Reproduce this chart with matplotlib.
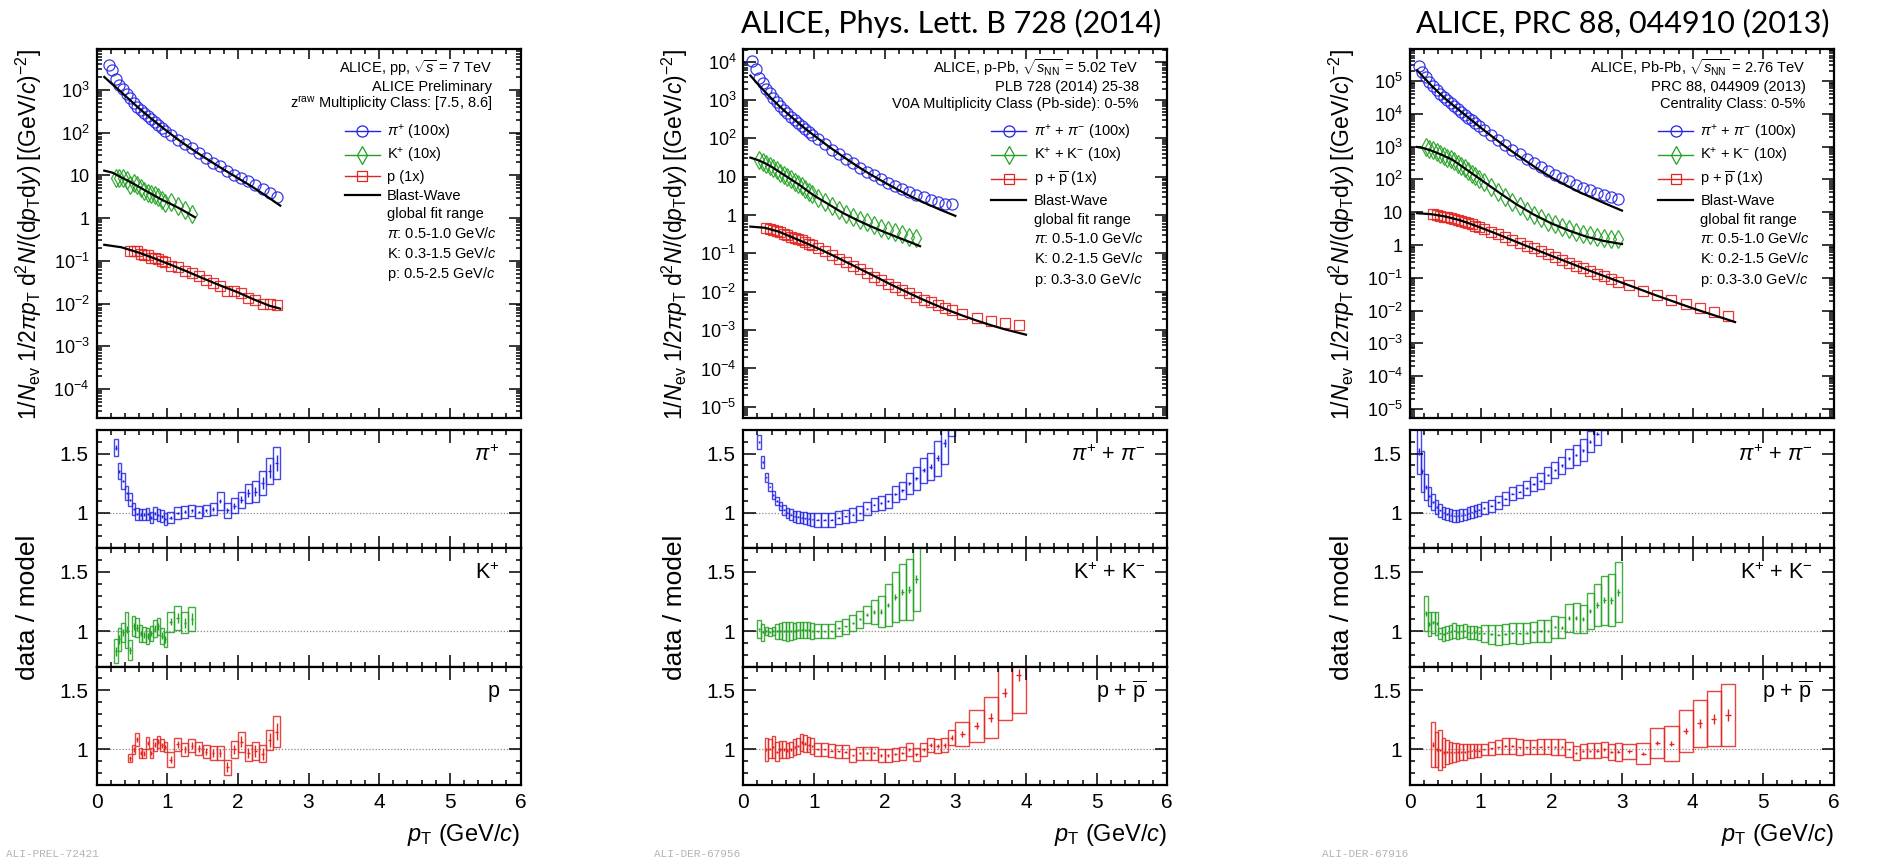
import numpy as np
import matplotlib
matplotlib.use("Agg")
import matplotlib.pyplot as plt
from matplotlib.lines import Line2D
from matplotlib.ticker import FuncFormatter, LogLocator, MultipleLocator, NullFormatter, FixedLocator

plt.rcParams['font.family'] = 'Liberation Sans'
plt.rcParams['mathtext.fontset'] = 'custom'
plt.rcParams['mathtext.rm'] = 'Liberation Sans'
plt.rcParams['mathtext.it'] = 'Liberation Sans:italic'
plt.rcParams['mathtext.bf'] = 'Liberation Sans:bold'
plt.rcParams['mathtext.sf'] = 'Liberation Sans'

W, H = 1889, 860
BLUE, GREEN, RED = '#2424e6', '#22a122', '#e32420'

# ---------------- pp 7 TeV ----------------
pp_pi_pt = [0.175, 0.225, 0.275, 0.325, 0.375, 0.425, 0.475, 0.525, 0.575, 0.625, 0.675, 0.725, 0.775, 0.825, 0.875, 0.925, 0.975,
            1.05, 1.15, 1.25, 1.35, 1.45, 1.55, 1.65, 1.75, 1.85, 1.95, 2.05, 2.15, 2.25, 2.35, 2.45, 2.55]
pp_pi_w = [0.05] * 17 + [0.1] * 16
pp_pi_y = [3800, 2950, 1760, 1290, 1020, 795, 635, 497, 403, 337, 284, 243, 202, 180, 152, 130, 109,
           87, 66.5, 53.5, 43.4, 33.3, 25.7, 19.7, 16.8, 12.5, 10.4, 8.6, 7.2, 5.8, 4.8, 3.9, 3.07]
pp_pi_r = [2.3, 1.85, 1.55, 1.35, 1.27, 1.17, 1.11, 1.03, 0.99, 0.985, 0.985, 0.99, 0.96, 0.995, 0.98, 0.97, 0.95,
           0.96, 1.0, 1.01, 1.02, 1.005, 1.02, 1.03, 1.10, 1.02, 1.06, 1.11, 1.165, 1.18, 1.25, 1.35, 1.42]
pp_pi_sys = [0.15, 0.1, 0.07, 0.068, 0.065, 0.06, 0.055, 0.05, 0.05, 0.05, 0.05, 0.05, 0.05, 0.05, 0.05, 0.05, 0.05,
             0.05, 0.05, 0.05, 0.05, 0.05, 0.05, 0.05, 0.075, 0.06, 0.065, 0.07, 0.08, 0.085, 0.1, 0.11, 0.135]
pp_pi_stat = [0.02, 0.02, 0.02, 0.015, 0.01, 0.01, 0.01, 0.01, 0.01, 0.01, 0.01, 0.01, 0.01, 0.01, 0.01, 0.01, 0.01,
              0.01, 0.01, 0.01, 0.01, 0.01, 0.015, 0.015, 0.02, 0.02, 0.025, 0.03, 0.035, 0.04, 0.05, 0.06, 0.07]
pp_pi_bw_pt = [0.11, 0.2, 0.3, 0.4, 0.5, 0.6, 0.8, 1.0, 1.2, 1.4, 1.6, 1.8, 2.0, 2.2, 2.4, 2.6]
pp_pi_bw = [2000, 1460, 1050, 740, 525, 370, 195, 107, 60.3, 35.9, 21.9, 13.6, 8.6, 5.43, 3.31, 1.95]

pp_k_pt = [0.275, 0.325, 0.375, 0.425, 0.475, 0.525, 0.575, 0.625, 0.675, 0.725, 0.775, 0.825, 0.875, 0.925, 0.975,
           1.05, 1.15, 1.25, 1.35]
pp_k_w = [0.05] * 15 + [0.1] * 4
pp_k_y = [8.67, 8.8, 8.5, 7.84, 5.9, 6.5, 5.8, 4.94, 4.38, 3.89, 3.59, 3.37, 3.10, 2.58, 2.28, 2.31, 1.95, 1.53, 1.26]
pp_k_r = [0.83, 0.93, 0.99, 1.01, 0.84, 1.04, 1.03, 0.98, 0.97, 0.96, 0.98, 1.02, 1.04, 0.96, 0.93, 1.08, 1.11, 1.07, 1.10]
pp_k_sys = [0.1, 0.1, 0.08, 0.155, 0.085, 0.085, 0.077, 0.07, 0.065, 0.065, 0.065, 0.07, 0.075, 0.07, 0.06,
            0.085, 0.1, 0.09, 0.1]
pp_k_stat = [0.04, 0.04, 0.03, 0.03, 0.03, 0.03, 0.03, 0.025, 0.025, 0.025, 0.025, 0.03, 0.03, 0.03, 0.03,
             0.03, 0.04, 0.04, 0.05]
pp_k_bw_pt = [0.11, 0.225, 0.34, 0.46, 0.58, 0.7, 0.81, 0.93, 1.05, 1.16, 1.28, 1.39]
pp_k_bw = [12.85, 11.53, 9.14, 7.24, 5.62, 4.31, 3.41, 2.65, 2.14, 1.73, 1.34, 1.05]

pp_p_pt = [0.475, 0.525, 0.575, 0.625, 0.675, 0.725, 0.775, 0.825, 0.875, 0.925, 0.975,
           1.05, 1.15, 1.25, 1.35, 1.45, 1.55, 1.65, 1.75, 1.85, 1.95, 2.05, 2.15, 2.25, 2.35, 2.45, 2.55]
pp_p_w = [0.05] * 11 + [0.1] * 16
pp_p_y = [0.1656, 0.169, 0.173, 0.1445, 0.134, 0.137, 0.1175, 0.1172, 0.1114, 0.1007, 0.092,
          0.0738, 0.0721, 0.059, 0.0518, 0.043, 0.0356, 0.0301, 0.0258, 0.01945, 0.01977, 0.0179, 0.01377,
          0.0119, 0.00995, 0.00955, 0.00917]
pp_p_r = [0.925, 1.0, 1.085, 0.97, 0.965, 1.055, 0.97, 1.04, 1.065, 1.035, 1.02,
          0.915, 1.045, 1.0, 1.03, 1.01, 0.98, 0.97, 0.97, 0.85, 1.0, 1.065, 0.97, 0.99, 0.965, 1.08, 1.15]
pp_p_sys = [0.035, 0.04, 0.055, 0.04, 0.04, 0.05, 0.045, 0.05, 0.05, 0.05, 0.045,
            0.065, 0.055, 0.055, 0.055, 0.055, 0.055, 0.06, 0.06, 0.065, 0.07, 0.085, 0.07, 0.075, 0.075, 0.085, 0.13]
pp_p_stat = [0.02, 0.02, 0.02, 0.02, 0.02, 0.02, 0.02, 0.02, 0.02, 0.02, 0.02,
             0.03, 0.03, 0.03, 0.03, 0.03, 0.03, 0.03, 0.035, 0.04, 0.04, 0.045, 0.045, 0.05, 0.05, 0.06, 0.07]
pp_p_bw_pt = [0.11, 0.35, 0.6, 0.8, 1.05, 1.3, 1.5, 1.75, 2.0, 2.2, 2.45, 2.6]
pp_p_bw = [0.2366, 0.2075, 0.155, 0.117, 0.0807, 0.0546, 0.0393, 0.0265, 0.0183, 0.0130, 0.00885, 0.0076]

# ---------------- p-Pb 5.02 TeV ----------------
ppb_pi_pt = [0.125, 0.175, 0.225, 0.275, 0.325, 0.375, 0.425, 0.475, 0.525, 0.575, 0.625, 0.675, 0.725, 0.775,
             0.825, 0.875, 0.925, 0.975,
             1.05, 1.15, 1.25, 1.35, 1.45, 1.55, 1.65, 1.75, 1.85, 1.95, 2.05, 2.15, 2.25, 2.35, 2.45, 2.55, 2.65,
             2.75, 2.85, 2.95]
ppb_pi_w = [0.05] * 18 + [0.1] * 20
ppb_pi_y = [10470, 6610, 3837, 2723, 1968, 1493, 1137, 883, 697, 554, 447, 366, 300, 248, 207, 173, 146, 123,
            96.2, 69.7, 51.1, 38.6, 29.2, 22.2, 17.1, 13.6, 10.9, 8.63, 6.93, 5.81, 4.77, 4.03, 3.38, 2.93, 2.47,
            2.16, 1.97, 1.93]
ppb_pi_r = [2.7, 2.2, 1.60, 1.43, 1.30, 1.22, 1.15, 1.10, 1.06, 1.025, 1.0, 0.983, 0.97, 0.966, 0.96, 0.955, 0.95,
            0.946,
            0.94, 0.94, 0.94, 0.96, 0.97, 0.983, 0.997, 1.034, 1.07, 1.08, 1.10, 1.16, 1.19, 1.25, 1.29, 1.36, 1.39,
            1.46, 1.59, 1.85]
ppb_pi_sys = [0.2, 0.15, 0.06, 0.05, 0.04, 0.035, 0.035, 0.035, 0.035, 0.04, 0.04, 0.045, 0.045, 0.05, 0.05, 0.05,
              0.05, 0.055,
              0.057, 0.057, 0.057, 0.057, 0.055, 0.057, 0.057, 0.055, 0.055, 0.06, 0.06, 0.065, 0.07, 0.09, 0.1,
              0.106, 0.114, 0.15, 0.18, 0.2]
ppb_pi_stat = [0.01, 0.01, 0.01, 0.008, 0.006, 0.005, 0.005, 0.005, 0.005, 0.005, 0.005, 0.005, 0.005, 0.005,
               0.005, 0.005, 0.005, 0.005,
               0.005, 0.005, 0.005, 0.005, 0.005, 0.005, 0.005, 0.006, 0.007, 0.008, 0.009, 0.01, 0.012, 0.014,
               0.016, 0.018, 0.02, 0.025, 0.03, 0.035]
ppb_pi_bw_pt = [0.1, 0.2, 0.3, 0.4, 0.5, 0.6, 0.7, 0.8, 0.9, 1.0, 1.2, 1.4, 1.6, 1.8, 2.0, 2.2, 2.4, 2.6, 2.8, 3.0]
ppb_pi_bw = [4365, 2692, 1698, 1096, 724, 490, 339, 234, 166, 120, 63.1, 34.7, 19.5, 11.5, 7.08, 4.47, 2.88, 1.95,
             1.35, 0.955]

ppb_k_pt = [0.225, 0.275, 0.325, 0.375, 0.425, 0.475, 0.525, 0.575, 0.625, 0.675, 0.725, 0.775, 0.825, 0.875,
            0.925, 0.975,
            1.05, 1.15, 1.25, 1.35, 1.45, 1.55, 1.65, 1.75, 1.85, 1.95, 2.05, 2.15, 2.25, 2.35, 2.45]
ppb_k_w = [0.05] * 16 + [0.1] * 15
ppb_k_y = [26.7, 23.8, 21.6, 19.2, 17.0, 14.8, 12.9, 11.2, 9.77, 8.51, 7.41, 6.52, 5.62, 4.82, 4.12, 3.50,
           2.85, 2.21, 1.71, 1.36, 1.09, 0.902, 0.755, 0.644, 0.543, 0.457, 0.406, 0.366, 0.315, 0.27, 0.251]
ppb_k_r = [1.017, 0.99, 1.0, 0.995, 1.0, 1.0, 1.0, 1.0, 1.0, 1.0, 1.0, 1.01, 1.01, 1.01, 1.01, 1.0,
           1.0, 1.0, 1.0, 1.025, 1.04, 1.07, 1.10, 1.14, 1.16, 1.165, 1.22, 1.29, 1.33, 1.35, 1.44]
ppb_k_sys = [0.077, 0.07, 0.035, 0.035, 0.035, 0.063, 0.066, 0.075, 0.08, 0.075, 0.07, 0.07, 0.07, 0.07, 0.07, 0.065,
             0.06, 0.06, 0.06, 0.063, 0.063, 0.07, 0.07, 0.075, 0.1, 0.13, 0.18, 0.21, 0.24, 0.26, 0.27]
ppb_k_stat = [0.01, 0.01, 0.01, 0.01, 0.01, 0.01, 0.01, 0.01, 0.01, 0.01, 0.01, 0.01, 0.01, 0.01, 0.01, 0.01,
              0.005, 0.005, 0.005, 0.006, 0.007, 0.008, 0.01, 0.012, 0.015, 0.018, 0.02, 0.025, 0.025, 0.03, 0.035]
ppb_k_bw_pt = [0.1, 0.2, 0.3, 0.4, 0.5, 0.6, 0.8, 1.0, 1.2, 1.4, 1.6, 1.8, 2.0, 2.2, 2.4, 2.5]
ppb_k_bw = [31.6, 27.5, 22.9, 18.2, 13.8, 10.5, 6.03, 3.24, 1.95, 1.16, 0.759, 0.513, 0.359, 0.257, 0.184, 0.155]

ppb_p_pt = [0.325, 0.375, 0.425, 0.475, 0.525, 0.575, 0.625, 0.675, 0.725, 0.775, 0.825, 0.875, 0.925, 0.975,
            1.05, 1.15, 1.25, 1.35, 1.45, 1.55, 1.65, 1.75, 1.85, 1.95, 2.05, 2.15, 2.25, 2.35, 2.45, 2.55, 2.65,
            2.75, 2.85, 2.95,
            3.1, 3.3, 3.5, 3.7, 3.9]
ppb_p_w = [0.05] * 14 + [0.1] * 20 + [0.2] * 5
ppb_p_y = [0.454, 0.431, 0.413, 0.374, 0.356, 0.325, 0.294, 0.272, 0.254, 0.234, 0.22, 0.1995, 0.180, 0.1626,
           0.1368, 0.1125, 0.0912, 0.0736, 0.0592, 0.0465, 0.0383, 0.031, 0.025, 0.0198, 0.016, 0.0131, 0.01086,
           0.00914, 0.00718, 0.00617, 0.00533, 0.00442, 0.00373, 0.00336,
           0.00271, 0.00213, 0.00171, 0.00155, 0.00138]
ppb_p_r = [1.0, 1.005, 1.02, 0.98, 1.0, 1.0, 0.99, 1.0, 1.02, 1.03, 1.06, 1.05, 1.04, 1.03,
           1.0, 1.0, 0.99, 0.985, 0.98, 0.95, 0.97, 0.97, 0.97, 0.95, 0.95, 0.96, 0.97, 1.0, 0.96, 1.0, 1.04, 1.03,
           1.035, 1.10,
           1.13, 1.20, 1.27, 1.48, 1.63]
ppb_p_sys = [0.095, 0.08, 0.09, 0.08, 0.07, 0.07, 0.065, 0.065, 0.065, 0.07, 0.07, 0.07, 0.065, 0.065,
             0.055, 0.055, 0.055, 0.055, 0.055, 0.055, 0.055, 0.055, 0.055, 0.055, 0.055, 0.055, 0.055, 0.055,
             0.055, 0.055, 0.06, 0.06, 0.06, 0.065,
             0.1, 0.135, 0.17, 0.23, 0.32]
ppb_p_stat = [0.01, 0.01, 0.01, 0.01, 0.01, 0.01, 0.01, 0.01, 0.01, 0.01, 0.01, 0.01, 0.01, 0.01,
              0.006, 0.006, 0.006, 0.006, 0.007, 0.007, 0.008, 0.008, 0.009, 0.01, 0.01, 0.011, 0.012, 0.013,
              0.014, 0.015, 0.016, 0.018, 0.02, 0.022,
              0.025, 0.03, 0.035, 0.04, 0.05]
ppb_p_bw_pt = [0.1, 0.3, 0.5, 0.7, 0.9, 1.1, 1.3, 1.5, 1.7, 1.9, 2.1, 2.3, 2.5, 2.7, 2.9, 3.1, 3.3, 3.5, 3.7, 4.0]
ppb_p_bw = [0.501, 0.468, 0.372, 0.26, 0.182, 0.1245, 0.0832, 0.0543, 0.0355, 0.0232, 0.0151, 0.0101, 0.00676,
            0.00468, 0.00331, 0.0024, 0.00178, 0.00135, 0.00105, 0.00076]

# ---------------- Pb-Pb 2.76 TeV ----------------
pbpb_pi_pt = [0.125, 0.175, 0.225, 0.275, 0.325, 0.375, 0.425, 0.475, 0.525, 0.575, 0.625, 0.675, 0.725, 0.775,
              0.825, 0.875, 0.925, 0.975,
              1.05, 1.15, 1.25, 1.35, 1.45, 1.55, 1.65, 1.75, 1.85, 1.95, 2.05, 2.15, 2.25, 2.35, 2.45, 2.55, 2.65,
              2.75, 2.85, 2.95]
pbpb_pi_w = [0.05] * 18 + [0.1] * 20
pbpb_pi_y = [285000, 194000, 134500, 96500, 71600, 54200, 41600, 32400, 25800, 20700, 16800, 13700, 11300, 9270,
             7660, 6320, 5210, 4310,
             3260, 2260, 1590, 1122, 811, 585, 428, 315, 233, 177, 137, 108, 86.9, 68.9, 55.9, 46.9, 39.4, 34.1,
             29.9, 26.1]
pbpb_pi_r = [1.52, 1.35, 1.22, 1.14, 1.09, 1.05, 1.02, 1.0, 0.99, 0.98, 0.975, 0.975, 0.98, 0.985, 0.995, 1.005,
             1.015, 1.025,
             1.04, 1.06, 1.09, 1.12, 1.16, 1.18, 1.21, 1.245, 1.27, 1.32, 1.36, 1.40, 1.46, 1.49, 1.53, 1.60, 1.67,
             1.80, 1.95, 2.1]
pbpb_pi_sys = [0.19, 0.17, 0.11, 0.08, 0.07, 0.06, 0.055, 0.05, 0.05, 0.05, 0.05, 0.05, 0.05, 0.05, 0.05, 0.05,
               0.05, 0.05,
               0.05, 0.05, 0.055, 0.055, 0.055, 0.057, 0.06, 0.06, 0.065, 0.065, 0.07, 0.075, 0.08, 0.085, 0.09,
               0.09, 0.1, 0.1, 0.11, 0.12]
pbpb_pi_stat = [0.03, 0.02, 0.015, 0.01, 0.008, 0.006, 0.005, 0.005, 0.005, 0.005, 0.005, 0.005, 0.005, 0.005,
                0.005, 0.005, 0.005, 0.005,
                0.005, 0.005, 0.005, 0.005, 0.005, 0.005, 0.006, 0.006, 0.007, 0.008, 0.008, 0.009, 0.01, 0.011,
                0.012, 0.014, 0.016, 0.018, 0.02, 0.022]
pbpb_pi_bw_pt = [0.1, 0.2, 0.3, 0.4, 0.5, 0.6, 0.8, 1.0, 1.2, 1.4, 1.6, 1.8, 2.0, 2.2, 2.4, 2.6, 2.8, 3.0]
pbpb_pi_bw = [213800, 125900, 74130, 45710, 28840, 19050, 8511, 3802, 1758, 831.8, 416.9, 213.8, 114.8, 67.6,
              40.7, 26.3, 17.0, 11.2]

pbpb_k_pt = [0.225, 0.275, 0.325, 0.375, 0.425, 0.475, 0.525, 0.575, 0.625, 0.675, 0.725, 0.775, 0.825, 0.875,
             0.925, 0.975,
             1.05, 1.15, 1.25, 1.35, 1.45, 1.55, 1.65, 1.75, 1.85, 1.95, 2.05, 2.15, 2.25, 2.35, 2.45, 2.55, 2.65,
             2.75, 2.85, 2.95]
pbpb_k_w = [0.05] * 16 + [0.1] * 20
pbpb_k_y = [985, 837, 775, 695, 579, 518, 466, 420, 367, 304, 258, 219, 181, 151, 128, 106,
            81.5, 57.1, 40.1, 28.6, 20.7, 15.0, 11.2, 8.43, 6.64, 5.18, 4.28, 3.47, 3.05, 2.56, 2.13, 1.96, 1.81,
            1.66, 1.53, 1.49]
pbpb_k_r = [1.15, 1.06, 1.075, 1.065, 0.98, 0.975, 0.985, 0.995, 1.005, 0.99, 1.0, 1.005, 0.99, 0.985, 0.99, 0.98,
            0.98, 0.975, 0.97, 0.975, 0.985, 0.98, 0.985, 0.99, 1.0, 1.0, 1.035, 1.03, 1.11, 1.11, 1.10, 1.17, 1.22,
            1.26, 1.26, 1.33]
pbpb_k_sys = [0.15, 0.1, 0.09, 0.1, 0.05, 0.06, 0.06, 0.06, 0.06, 0.06, 0.055, 0.055, 0.055, 0.055, 0.055, 0.055,
              0.07, 0.08, 0.085, 0.085, 0.085, 0.085, 0.085, 0.085, 0.09, 0.09, 0.09, 0.09, 0.12, 0.13, 0.12, 0.15,
              0.18, 0.21, 0.22, 0.25]
pbpb_k_stat = [0.02, 0.015, 0.012, 0.01, 0.008, 0.006, 0.005, 0.005, 0.005, 0.005, 0.005, 0.005, 0.005, 0.005,
               0.005, 0.005,
               0.005, 0.005, 0.005, 0.005, 0.006, 0.006, 0.007, 0.008, 0.009, 0.01, 0.011, 0.012, 0.014, 0.016,
               0.018, 0.02, 0.022, 0.025, 0.028, 0.03]
pbpb_k_bw_pt = [0.1, 0.2, 0.3, 0.45, 0.6, 0.8, 1.05, 1.3, 1.5, 1.75, 2.0, 2.25, 2.5, 2.75, 3.0]
pbpb_k_bw = [977, 891, 759, 562, 398, 200, 83.2, 34.7, 17.8, 8.51, 4.57, 2.75, 1.78, 1.32, 1.07]

pbpb_p_pt = [0.325, 0.375, 0.425, 0.475, 0.525, 0.575, 0.625, 0.675, 0.725, 0.775, 0.825, 0.875, 0.925, 0.975,
             1.05, 1.15, 1.25, 1.35, 1.45, 1.55, 1.65, 1.75, 1.85, 1.95, 2.05, 2.15, 2.25, 2.35, 2.45, 2.55, 2.65,
             2.75, 2.85, 2.95,
             3.1, 3.3, 3.5, 3.7, 3.9, 4.1, 4.3, 4.5]
pbpb_p_w = [0.05] * 14 + [0.1] * 20 + [0.2] * 8
pbpb_p_y = [8.87, 8.2, 7.83, 7.38, 7.03, 6.58, 6.17, 5.82, 5.41, 4.97, 4.58, 4.23, 3.85, 3.52,
            3.08, 2.56, 2.13, 1.76, 1.44, 1.16, 0.955, 0.783, 0.646, 0.53, 0.434, 0.357, 0.288, 0.231, 0.194, 0.161,
            0.134, 0.112, 0.0914, 0.076,
            0.0583, 0.0395, 0.0297, 0.0208, 0.0162, 0.0122, 0.00912, 0.00678]
pbpb_p_r = [1.04, 1.0, 0.995, 0.975, 0.98, 0.975, 0.975, 0.98, 0.98, 0.98, 0.985, 0.99, 0.99, 0.99,
            1.0, 1.01, 1.02, 1.03, 1.03, 1.02, 1.02, 1.02, 1.025, 1.025, 1.02, 1.02, 1.0, 0.97, 0.99, 0.99, 0.99,
            1.0, 0.98, 0.98,
            0.985, 0.965, 1.055, 1.05, 1.155, 1.22, 1.26, 1.29]
pbpb_p_sys = [0.19, 0.15, 0.17, 0.12, 0.1, 0.09, 0.08, 0.075, 0.07, 0.065, 0.06, 0.06, 0.055, 0.055,
              0.05, 0.055, 0.06, 0.065, 0.065, 0.065, 0.06, 0.06, 0.06, 0.065, 0.065, 0.065, 0.06, 0.06, 0.06,
              0.065, 0.065, 0.065, 0.07, 0.075,
              0.065, 0.09, 0.13, 0.15, 0.18, 0.2, 0.23, 0.26]
pbpb_p_stat = [0.02, 0.015, 0.012, 0.01, 0.008, 0.007, 0.006, 0.006, 0.006, 0.006, 0.006, 0.006, 0.006, 0.006,
               0.005, 0.005, 0.005, 0.005, 0.005, 0.005, 0.005, 0.005, 0.006, 0.006, 0.006, 0.007, 0.007, 0.008,
               0.008, 0.009, 0.01, 0.01, 0.011, 0.012,
               0.012, 0.014, 0.018, 0.022, 0.028, 0.035, 0.042, 0.05]
pbpb_p_bw_pt = [0.1, 0.3, 0.5, 0.7, 0.85, 1.0, 1.25, 1.5, 2.0, 2.5, 3.0, 3.5, 4.0, 4.6]
pbpb_p_bw = [9.33, 8.71, 7.41, 5.75, 4.47, 3.39, 2.09, 1.26, 0.468, 0.178, 0.0708, 0.0282, 0.01175, 0.00447]

# ---------------- text ----------------
pp_legend = [r"$\pi^{+}$ (100x)", r"K$^{+}$ (10x)", "p (1x)", "Blast-Wave", "global fit range",
             r"$\pi$: 0.5-1.0 GeV/$c$", r"K: 0.3-1.5 GeV/$c$", r"p: 0.5-2.5 GeV/$c$"]
ppb_legend = [r"$\pi^{+}$ + $\pi^{-}$ (100x)", r"K$^{+}$ + K$^{-}$ (10x)", r"p + $\overline{\rm p}$ (1x)",
              "Blast-Wave", "global fit range",
              r"$\pi$: 0.5-1.0 GeV/$c$", r"K: 0.2-1.5 GeV/$c$", r"p: 0.3-3.0 GeV/$c$"]
pbpb_legend = ppb_legend
pp_header = [r"ALICE, pp, $\sqrt{s}$ = 7 TeV", "ALICE Preliminary", r"z$^{\rm raw}$ Multiplicity Class: [7.5, 8.6]"]
ppb_header = [r"ALICE, p-Pb, $\sqrt{s_{\rm NN}}$ = 5.02 TeV", "PLB 728 (2014) 25-38",
              "V0A Multiplicity Class (Pb-side): 0-5%"]
pbpb_header = [r"ALICE, Pb-Pb, $\sqrt{s_{\rm NN}}$ = 2.76 TeV", "PRC 88, 044909 (2013)", "Centrality Class: 0-5%"]
pp_rlabels = [r"$\pi^{+}$", r"K$^{+}$", "p"]
ab_rlabels = [r"$\pi^{+}$ + $\pi^{-}$", r"K$^{+}$ + K$^{-}$", r"p + $\overline{\rm p}$"]

ylabel_top = (r"$1/N_{\rm ev}\; 1/2\pi p_{\rm T}\; {\rm d}^{2}N/({\rm d}p_{\rm T}{\rm d}y)\;"
              r" [({\rm GeV}/c)^{-2}]$")
xlabel = r"$p_{\rm T}$ (GeV/$c$)"


def log_fmt(v, pos):
    e = int(round(np.log10(v)))
    if e == 0:
        return "1"
    if e == 1:
        return "10"
    return r"$10^{%d}$" % e


def style_ax(ax):
    for sp in ax.spines.values():
        sp.set_linewidth(1.6)
    ax.tick_params(which='both', direction='in', top=True, right=True, width=1.1)
    ax.tick_params(which='major', length=7)
    ax.tick_params(which='minor', length=3.5)


fig = plt.figure(figsize=(W / 100, H / 100), dpi=100)


def draw_column(x0, ylim, series, legend_labels, header, rlabels, title, title_x, wm, wm_x):
    left = x0 / W
    width = 424 / W

    # spectra panel
    ax = fig.add_axes([left, 1 - 418 / H, width, 369 / H])
    handles = []
    for pt, w, y, r, sys_, stat, bw_pt, bw, col, mk, ms in series:
        ax.plot(pt, y, ls='none', marker=mk, ms=ms, mfc='none', mec=col, mew=0.9, alpha=0.9, zorder=2)
        ax.plot(bw_pt, bw, color='k', lw=1.6, zorder=3)
        handles.append(Line2D([], [], color=col, marker=mk, ms=ms, mfc='none', mec=col, mew=0.9, lw=1.0))
    handles.append(Line2D([], [], color='k', lw=1.6))
    for _ in range(4):
        handles.append(Line2D([], [], color='none'))
    ax.set_yscale('log')
    ax.set_ylim(*ylim)
    ax.set_xlim(0, 6)
    ax.yaxis.set_major_locator(LogLocator(base=10, numticks=30))
    ax.yaxis.set_minor_locator(LogLocator(base=10, subs=np.arange(2, 10), numticks=30))
    ax.yaxis.set_major_formatter(FuncFormatter(log_fmt))
    ax.yaxis.set_minor_formatter(NullFormatter())
    ax.xaxis.set_major_locator(MultipleLocator(1))
    ax.xaxis.set_minor_locator(MultipleLocator(0.2))
    style_ax(ax)
    ax.tick_params(axis='y', which='major', length=9)
    ax.tick_params(labelbottom=False, labelsize=13, pad=5)
    ax.legend(handles, legend_labels, loc='upper left', bbox_to_anchor=(0.585, 0.80), frameon=False,
              fontsize=10.5, handlelength=2.4, handletextpad=0.5, labelspacing=0.32, borderpad=0,
              borderaxespad=0, numpoints=1)
    for txt, yy in zip(header, [0.9485, 0.897, 0.851]):
        ax.text(0.933, yy, txt, transform=ax.transAxes, ha='right', va='center', fontsize=10.5)
    fig.text((x0 - 68) / W, 1 - 234 / H, ylabel_top, rotation=90, ha='center', va='center', fontsize=16.5)

    # ratio panels
    for i, (pt, w, y, r, sys_, stat, bw_pt, bw, col, mk, ms) in enumerate(series):
        axr = fig.add_axes([left, 1 - (548.3 + 118.33 * i) / H, width, 118.33 / H])
        pt = np.array(pt)
        w = np.array(w)
        r = np.array(r)
        sys_ = np.array(sys_)
        axr.axhline(1.0, color='#8a8a8a', ls=(0, (1, 1.5)), lw=0.9, zorder=0)
        axr.bar(pt, 2 * sys_, width=w, bottom=r - sys_, fill=False, edgecolor=col, linewidth=1.0, alpha=0.85)
        axr.errorbar(pt, r, yerr=stat, xerr=0.18 * w, fmt='none', ecolor=col, elinewidth=1.0)
        axr.set_xlim(0, 6)
        axr.set_ylim(0.7, 1.7)
        axr.yaxis.set_major_locator(FixedLocator([1.0, 1.5]))
        axr.yaxis.set_major_formatter(FuncFormatter(lambda v, p: "1" if abs(v - 1) < 1e-6 else "1.5"))
        axr.yaxis.set_minor_locator(MultipleLocator(0.1))
        axr.xaxis.set_major_locator(MultipleLocator(1))
        axr.xaxis.set_minor_locator(MultipleLocator(0.2))
        style_ax(axr)
        axr.tick_params(axis='both', which='major', length=9)
        axr.tick_params(labelsize=15, pad=6)
        if i < 2:
            axr.tick_params(labelbottom=False)
        axr.text(0.95, 0.79, rlabels[i], transform=axr.transAxes, ha='right', va='center', fontsize=15.5)

    fig.text((x0 - 68) / W, 1 - 607 / H, "data / model", rotation=90, ha='center', va='center', fontsize=19)
    fig.text((x0 + 424) / W, 1 - 835 / H, xlabel, ha='right', va='center', fontsize=17)
    if title:
        fig.text(title_x / W, 1 - 23 / H, title, ha='center', va='center', fontsize=22, family='Lato')
    fig.text(wm_x / W, 1 - 854 / H, wm, ha='left', va='center', fontsize=8, family='Liberation Mono',
             color='#b4b4b4')


draw_column(96.5, (2.1e-5, 9e3),
            [(pp_pi_pt, pp_pi_w, pp_pi_y, pp_pi_r, pp_pi_sys, pp_pi_stat, pp_pi_bw_pt, pp_pi_bw, BLUE, 'o', 8),
             (pp_k_pt, pp_k_w, pp_k_y, pp_k_r, pp_k_sys, pp_k_stat, pp_k_bw_pt, pp_k_bw, GREEN, 'd', 9),
             (pp_p_pt, pp_p_w, pp_p_y, pp_p_r, pp_p_sys, pp_p_stat, pp_p_bw_pt, pp_p_bw, RED, 's', 7)],
            pp_legend, pp_header, pp_rlabels, None, 0, "ALI-PREL-72421", 6)

draw_column(743.3, (5.1e-6, 2.15e4),
            [(ppb_pi_pt, ppb_pi_w, ppb_pi_y, ppb_pi_r, ppb_pi_sys, ppb_pi_stat, ppb_pi_bw_pt, ppb_pi_bw, BLUE, 'o', 8),
             (ppb_k_pt, ppb_k_w, ppb_k_y, ppb_k_r, ppb_k_sys, ppb_k_stat, ppb_k_bw_pt, ppb_k_bw, GREEN, 'd', 9),
             (ppb_p_pt, ppb_p_w, ppb_p_y, ppb_p_r, ppb_p_sys, ppb_p_stat, ppb_p_bw_pt, ppb_p_bw, RED, 's', 7)],
            ppb_legend, ppb_header, ab_rlabels, "ALICE, Phys. Lett. B 728 (2014)", 951, "ALI-DER-67956", 654)

draw_column(1410, (5.3e-6, 9.5e5),
            [(pbpb_pi_pt, pbpb_pi_w, pbpb_pi_y, pbpb_pi_r, pbpb_pi_sys, pbpb_pi_stat, pbpb_pi_bw_pt, pbpb_pi_bw,
              BLUE, 'o', 8),
             (pbpb_k_pt, pbpb_k_w, pbpb_k_y, pbpb_k_r, pbpb_k_sys, pbpb_k_stat, pbpb_k_bw_pt, pbpb_k_bw,
              GREEN, 'd', 9),
             (pbpb_p_pt, pbpb_p_w, pbpb_p_y, pbpb_p_r, pbpb_p_sys, pbpb_p_stat, pbpb_p_bw_pt, pbpb_p_bw,
              RED, 's', 7)],
            pbpb_legend, pbpb_header, ab_rlabels, "ALICE, PRC 88, 044910 (2013)", 1623, "ALI-DER-67916", 1322)

fig.savefig("out.png", dpi=100)
